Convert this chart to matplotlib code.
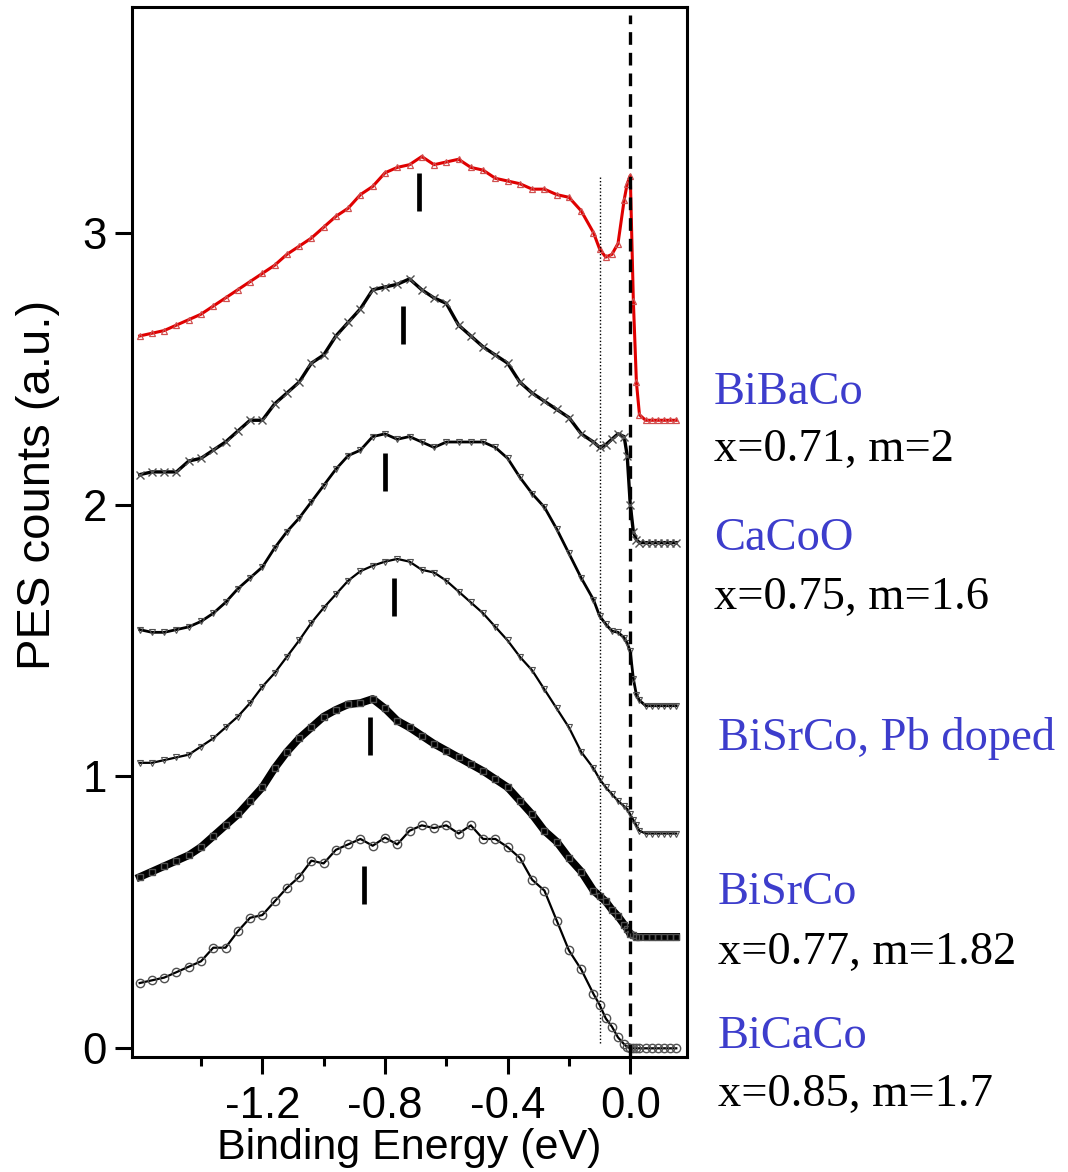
import matplotlib
matplotlib.use("Agg")
import matplotlib.pyplot as plt
from matplotlib.ticker import FormatStrFormatter

plt.rcParams["font.family"] = ["Liberation Sans", "DejaVu Sans"]
plt.rcParams["axes.unicode_minus"] = False

# --- data ---
energy = [-1.60, -1.56, -1.52, -1.48, -1.44, -1.40, -1.36, -1.32, -1.28, -1.24,
          -1.20, -1.16, -1.12, -1.08, -1.04, -1.00, -0.96, -0.92, -0.88, -0.84,
          -0.80, -0.76, -0.72, -0.68, -0.64, -0.60, -0.56, -0.52, -0.48, -0.44,
          -0.40, -0.36, -0.32, -0.28, -0.24, -0.20, -0.16, -0.12, -0.10, -0.08,
          -0.06, -0.04, -0.02, -0.01, 0.00, 0.01, 0.02, 0.03, 0.05, 0.07,
          0.09, 0.11, 0.13, 0.15]

# spectra, bottom to top (already offset)
spec_0 = [0.24, 0.25, 0.26, 0.28, 0.30, 0.32, 0.37, 0.37, 0.43, 0.48,
          0.49, 0.54, 0.59, 0.63, 0.69, 0.68, 0.73, 0.75, 0.77, 0.745,
          0.775, 0.75, 0.80, 0.82, 0.81, 0.82, 0.79, 0.82, 0.77, 0.77,
          0.74, 0.70, 0.62, 0.58, 0.47, 0.36, 0.29, 0.20, 0.16, 0.11,
          0.08, 0.04, 0.015, 0.005, 0.00, 0.00, 0.00, 0.00, 0.00, 0.00,
          0.00, 0.00, 0.00, 0.00]
spec_1 = [0.63, 0.65, 0.67, 0.69, 0.71, 0.74, 0.78, 0.82, 0.86, 0.91,
          0.96, 1.03, 1.09, 1.14, 1.18, 1.22, 1.245, 1.265, 1.27, 1.285,
          1.25, 1.205, 1.18, 1.15, 1.12, 1.095, 1.07, 1.045, 1.02, 0.99,
          0.96, 0.91, 0.86, 0.80, 0.76, 0.70, 0.65, 0.58, 0.56, 0.54,
          0.51, 0.486, 0.455, 0.44, 0.42, 0.415, 0.41, 0.41, 0.41, 0.41,
          0.41, 0.41, 0.41, 0.41]
spec_2 = [1.05, 1.05, 1.06, 1.07, 1.08, 1.11, 1.14, 1.18, 1.22, 1.27,
          1.33, 1.38, 1.44, 1.50, 1.565, 1.62, 1.67, 1.72, 1.755, 1.775,
          1.79, 1.80, 1.79, 1.76, 1.75, 1.72, 1.68, 1.64, 1.60, 1.55,
          1.50, 1.44, 1.39, 1.32, 1.25, 1.18, 1.09, 1.03, 0.99, 0.96,
          0.935, 0.91, 0.89, 0.88, 0.86, 0.84, 0.82, 0.80, 0.79, 0.79,
          0.79, 0.79, 0.79, 0.79]
spec_3 = [1.54, 1.53, 1.53, 1.54, 1.55, 1.57, 1.60, 1.64, 1.69, 1.73,
          1.77, 1.84, 1.90, 1.95, 2.01, 2.07, 2.13, 2.18, 2.20, 2.25,
          2.26, 2.24, 2.25, 2.23, 2.21, 2.23, 2.23, 2.23, 2.23, 2.21,
          2.17, 2.10, 2.04, 1.99, 1.91, 1.82, 1.73, 1.65, 1.59, 1.56,
          1.535, 1.53, 1.51, 1.49, 1.46, 1.36, 1.30, 1.28, 1.26, 1.26,
          1.26, 1.26, 1.26, 1.26]
spec_4 = [2.11, 2.12, 2.12, 2.12, 2.16, 2.17, 2.20, 2.23, 2.27, 2.31,
          2.31, 2.37, 2.41, 2.45, 2.52, 2.55, 2.62, 2.67, 2.72, 2.79,
          2.80, 2.81, 2.83, 2.79, 2.76, 2.74, 2.66, 2.62, 2.58, 2.55,
          2.52, 2.45, 2.41, 2.38, 2.35, 2.32, 2.26, 2.23, 2.21, 2.22,
          2.24, 2.26, 2.25, 2.18, 2.00, 1.90, 1.87, 1.86, 1.86, 1.86,
          1.86, 1.86, 1.86, 1.86]
spec_5 = [2.62, 2.63, 2.64, 2.66, 2.68, 2.70, 2.73, 2.76, 2.79, 2.82,
          2.85, 2.88, 2.92, 2.95, 2.98, 3.02, 3.06, 3.09, 3.14, 3.17,
          3.22, 3.24, 3.25, 3.28, 3.25, 3.26, 3.27, 3.24, 3.23, 3.20,
          3.19, 3.18, 3.16, 3.16, 3.14, 3.13, 3.08, 3.00, 2.94, 2.91,
          2.92, 2.96, 3.12, 3.18, 3.21, 2.75, 2.45, 2.33, 2.31, 2.31,
          2.31, 2.31, 2.31, 2.31]

# short bars marking the peak of each spectrum
peak_energy = [-0.87, -0.85, -0.77, -0.80, -0.74, -0.69]
peak_low = [0.53, 1.08, 1.59, 2.05, 2.59, 3.08]
peak_high = [0.67, 1.22, 1.73, 2.19, 2.73, 3.22]

fermi_energy = 0.0
dotted_energy = -0.10
dotted_low, dotted_high = 0.02, 3.21

sample_names = ["BiBaCo", "CaCoO", "BiSrCo, Pb doped", "BiSrCo", "BiCaCo"]
sample_params = ["x=0.71, m=2", "x=0.75, m=1.6", "", "x=0.77, m=1.82", "x=0.85, m=1.7"]

# --- plot ---
W, H = 1068, 1172
fig = plt.figure(figsize=(W / 100, H / 100), dpi=100)
ax = fig.add_axes([132 / W, 1 - 1057 / H, 555 / W, 1050 / H])

grey = "#505050"
ax.plot(energy, spec_0, color="black", lw=1.6, marker="o", ms=6,
        mfc="none", mec=grey, mew=1.0)
ax.plot(energy, spec_1, color="black", lw=5.5, marker="s", ms=4,
        mfc="none", mec=grey, mew=1.0)
ax.plot(energy, spec_2, color="black", lw=1.6, marker="v", ms=4,
        mfc="none", mec=grey, mew=0.8)
ax.plot(energy, spec_3, color="black", lw=2.0, marker="v", ms=5,
        mfc="none", mec=grey, mew=0.8)
ax.plot(energy, spec_4, color="black", lw=2.4, marker="x", ms=6,
        mec=grey, mew=1.0)
ax.plot(energy, spec_5, color="#e00000", lw=2.2, marker="^", ms=5,
        mfc="none", mec="#d05050", mew=0.9)

ax.vlines(peak_energy, peak_low, peak_high, colors="black", lw=3.4)
ax.axvline(fermi_energy, ymin=0.0, ymax=0.992, color="black", lw=2.4,
           ls=(0, (3.8, 2.4)))
ax.vlines(dotted_energy, dotted_low, dotted_high, colors="black", lw=1.0,
          linestyles=(0, (1, 1.5)))

ax.set_xlim(-1.625, 0.185)
ax.set_ylim(-0.032, 3.83)
ax.set_xticks([-1.2, -0.8, -0.4, 0.0])
ax.set_xticks([-1.4, -1.0, -0.6, -0.2], minor=True)
ax.set_yticks([0, 1, 2, 3])
ax.xaxis.set_major_formatter(FormatStrFormatter("%.1f"))
ax.tick_params(which="major", length=12, width=2.2, labelsize=31.5, direction="out")
ax.tick_params(which="minor", length=6.5, width=2.2, direction="out")
ax.tick_params(axis="x", which="major", pad=9)
ax.tick_params(axis="y", which="major", pad=6)
for sp in ax.spines.values():
    sp.set_linewidth(2.2)

ax.set_xlabel("Binding Energy (eV)", fontsize=31)
ax.xaxis.set_label_coords(0.5, -0.068)
ax.set_ylabel("PES counts (a.u.)", fontsize=34)
ax.yaxis.set_label_coords(-0.13, 0.545)

# sample labels right of the axes (pixel baselines)
name_xy = [(714, 404), (714, 550), (718, 750), (718, 904), (718, 1048)]
param_xy = [(714, 461), (714, 609), None, (718, 964), (718, 1106)]
for name, param, nxy, pxy in zip(sample_names, sample_params, name_xy, param_xy):
    fig.text(nxy[0] / W, 1 - nxy[1] / H, name, color="#3d3dcc",
             family="Liberation Serif", fontsize=33.5, va="baseline")
    if pxy:
        fig.text(pxy[0] / W, 1 - pxy[1] / H, param, color="black",
                 family="Liberation Serif", fontsize=33.5, va="baseline")

fig.savefig("out.png", dpi=100)
